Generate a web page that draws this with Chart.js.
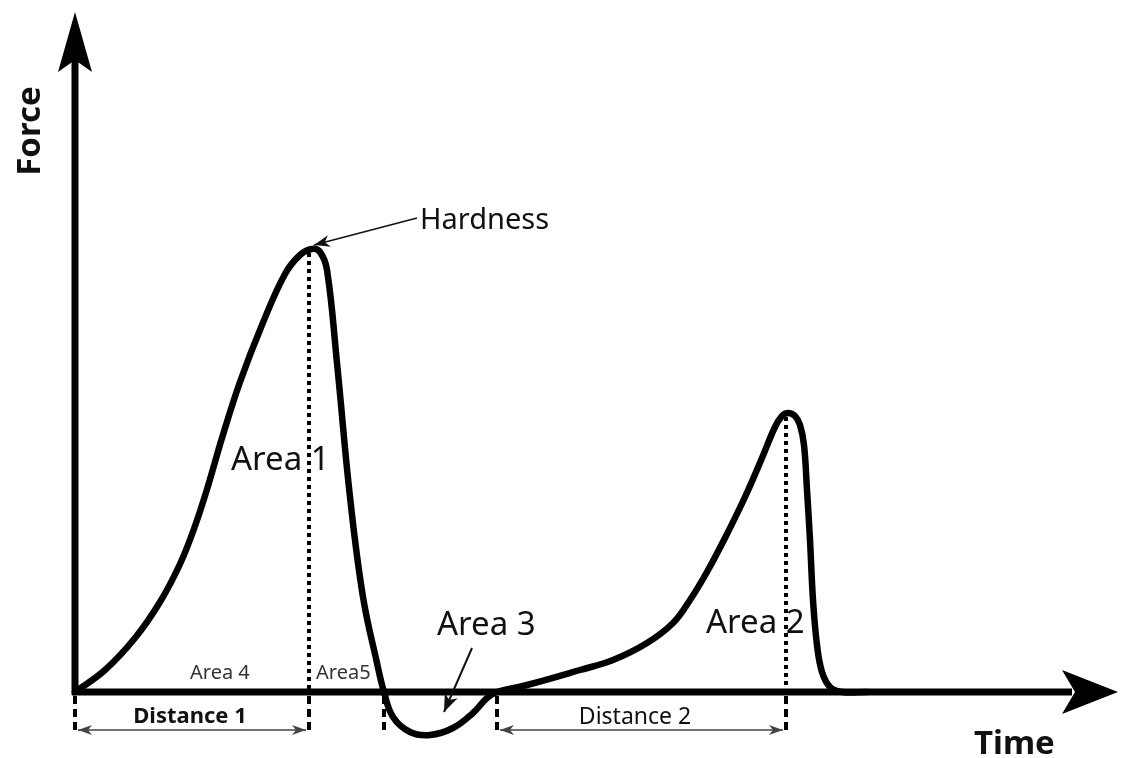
<!DOCTYPE html>
<html>
<head>
<meta charset="utf-8">
<script src="https://cdn.jsdelivr.net/npm/chart.js@4/dist/chart.umd.min.js"></script>
<style>
  html, body { margin: 0; padding: 0; background: #fff; }
  #wrap { width: 1121px; height: 758px; }
</style>
</head>
<body>
<div id="wrap"><canvas id="curva" width="1121" height="758"></canvas></div>
<script>
// curva fuerza-tiempo (unidades del dibujo, origen en el cruce de ejes)
const timeValues  = [0, 30, 60, 85, 105, 120, 133, 147, 165, 187, 210, 225, 237, 245, 252, 262, 275, 288, 302, 309, 318, 335, 355, 378, 398, 412, 422, 452, 505, 538, 572, 598, 615, 632, 650, 670, 687, 700, 707, 713, 720, 725, 729, 732, 735, 738, 742, 747, 755, 767, 792];
const forceValues = [0, 22, 54, 90, 128, 166, 206, 254, 310, 367, 418, 437, 443, 440, 422, 329, 195, 95, 29, 0, -25, -40, -43, -36, -21, -6, 0, 7, 22, 32, 49, 69, 92, 120, 154, 195, 234, 265, 276, 279, 276, 267, 247, 202, 152, 92, 47, 20, 5, 0, 0];

// marcas verticales: inicio, dureza, fin ciclo 1, inicio ciclo 2, pico 2
const markTimes  = [0, 234, 309, 422, 711];
const markTops   = [0, 443, 0, 0, 279];
const markBottom = [-43, -43, -38, -43, -43];

const distanceFrom  = [0, 422];
const distanceTo    = [234, 711];
const distanceNames = ["Distance 1", "Distance 2"];

function arrowHead(ctx, x, y, angle, len, half, notch) {
  ctx.save();
  ctx.translate(x, y);
  ctx.rotate(angle);
  ctx.beginPath();
  ctx.moveTo(0, 0);
  ctx.lineTo(-len, -half);
  ctx.lineTo(-len + notch, 0);
  ctx.lineTo(-len, half);
  ctx.closePath();
  ctx.fill();
  ctx.restore();
}

function leader(ctx, x1, y1, x2, y2, width, len, half, notch) {
  ctx.lineWidth = width;
  ctx.beginPath();
  ctx.moveTo(x1, y1);
  ctx.lineTo(x2, y2);
  ctx.stroke();
  arrowHead(ctx, x2, y2, Math.atan2(y2 - y1, x2 - x1), len, half, notch);
}

const diagramPlugin = {
  id: "diagram",
  beforeDatasetsDraw(chart) {
    const ctx = chart.ctx;
    const sx = chart.scales.x, sy = chart.scales.y;
    const ox = sx.getPixelForValue(0), oy = sy.getPixelForValue(0);
    ctx.save();
    ctx.fillStyle = "#000";
    ctx.strokeStyle = "#000";
    ctx.lineWidth = 7;
    ctx.beginPath();
    ctx.moveTo(ox, oy + 3);
    ctx.lineTo(ox, 60);
    ctx.moveTo(ox - 3, oy);
    ctx.lineTo(1072, oy);
    ctx.stroke();
    arrowHead(ctx, ox, 12, -Math.PI / 2, 60, 17, 12);
    arrowHead(ctx, 1118, oy, 0, 56, 22, 13);
    ctx.restore();
  },
  afterDatasetsDraw(chart) {
    const ctx = chart.ctx;
    const sx = chart.scales.x, sy = chart.scales.y;
    const oy = sy.getPixelForValue(0);
    ctx.save();
    ctx.fillStyle = "#000";
    ctx.strokeStyle = "#000";

    // lineas punteadas y discontinuas
    markTimes.forEach((t, i) => {
      const x = sx.getPixelForValue(t);
      if (markTops[i] > 0) {
        ctx.lineWidth = 4;
        ctx.setLineDash([4, 4]);
        ctx.beginPath();
        ctx.moveTo(x, sy.getPixelForValue(markTops[i]) + 4);
        ctx.lineTo(x, oy);
        ctx.stroke();
      }
      ctx.lineWidth = 4;
      ctx.setLineDash([8, 5]);
      ctx.beginPath();
      ctx.moveTo(x, oy + 4);
      ctx.lineTo(x, sy.getPixelForValue(markBottom[i]));
      ctx.stroke();
    });
    ctx.setLineDash([]);

    // flechas de distancia
    ctx.strokeStyle = "#444";
    ctx.fillStyle = "#444";
    distanceFrom.forEach((t0, i) => {
      const x1 = sx.getPixelForValue(t0) + 3;
      const x2 = sx.getPixelForValue(distanceTo[i]) - 3;
      const y = sy.getPixelForValue(-38);
      ctx.lineWidth = 1.5;
      ctx.beginPath();
      ctx.moveTo(x1, y);
      ctx.lineTo(x2, y);
      ctx.stroke();
      arrowHead(ctx, x1, y, Math.PI, 14, 5, 4);
      arrowHead(ctx, x2, y, 0, 14, 5, 4);
    });

    // flechas de anotacion
    ctx.strokeStyle = "#111";
    ctx.fillStyle = "#111";
    leader(ctx, 417, 218, sx.getPixelForValue(239), sy.getPixelForValue(447), 1.5, 16, 6, 5);
    leader(ctx, 472, 648, 444, 712, 2, 18, 7, 5);

    // textos
    ctx.fillStyle = "#111";
    ctx.textBaseline = "alphabetic";
    ctx.textAlign = "left";
    ctx.font = "29px 'Noto Sans'";
    ctx.fillText("Hardness", 420, 229);
    ctx.font = "33px 'Noto Sans'";
    ctx.fillText("Area 1", 231, 470);
    ctx.fillText("Area 2", 706, 633);
    ctx.fillText("Area 3", 437, 635);
    ctx.fillStyle = "#333";
    ctx.font = "20px 'Noto Sans'";
    ctx.fillText("Area 4", 190, 679);
    ctx.fillText("Area5", 316, 679);

    ctx.fillStyle = "#111";
    ctx.textAlign = "center";
    ctx.font = "bold 22px 'Noto Sans'";
    ctx.fillText(distanceNames[0], 190, 723);
    ctx.font = "23px 'Noto Sans'";
    ctx.fillText(distanceNames[1], 635, 724);

    ctx.font = "bold 33px 'Noto Sans'";
    ctx.textAlign = "left";
    ctx.fillText("Time", 974, 754);
    ctx.translate(40, 131);
    ctx.rotate(-Math.PI / 2);
    ctx.textAlign = "center";
    ctx.fillText("Force", 0, 0);
    ctx.restore();
  }
};

const points = timeValues.map((t, i) => ({ x: t, y: forceValues[i] }));

new Chart(document.getElementById("curva"), {
  type: "line",
  data: {
    datasets: [{
      label: "Force",
      data: points,
      borderColor: "#000",
      borderWidth: 6.5,
      borderCapStyle: "round",
      borderJoinStyle: "round",
      pointRadius: 0,
      tension: 0.4,
      fill: false,
      clip: false
    }]
  },
  options: {
    responsive: false,
    animation: false,
    devicePixelRatio: 1,
    layout: { padding: 0 },
    plugins: { legend: { display: false }, tooltip: { enabled: false } },
    scales: {
      x: { type: "linear", min: -75, max: 1046, display: false },
      y: { type: "linear", min: -66, max: 692, display: false }
    }
  },
  plugins: [diagramPlugin]
});
</script>
</body>
</html>
